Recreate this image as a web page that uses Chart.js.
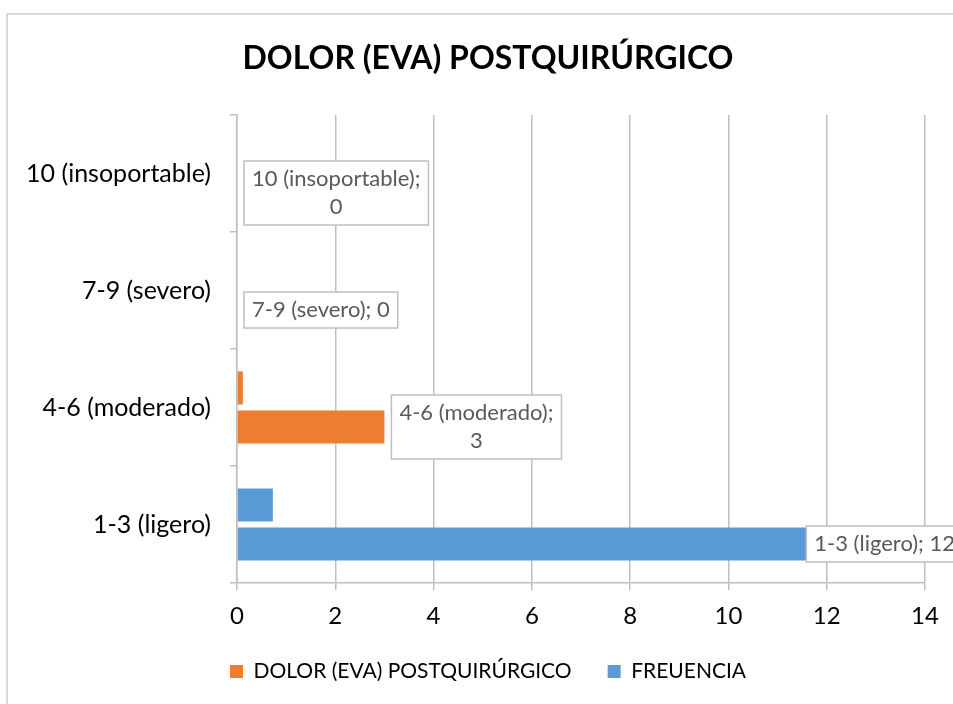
<!DOCTYPE html>
<html>
<head>
<meta charset="utf-8">
<script src="https://cdn.jsdelivr.net/npm/chart.js@4"></script>
<style>
  html, body { margin: 0; padding: 0; background: #fff; overflow: hidden; }
  .box { position: absolute; left: 6px; top: 13px; width: 960px; height: 720px; border: 2px solid #d9d9d9; }
  canvas { display: block; }
</style>
</head>
<body>
<div class="box"><canvas id="chartDolor" width="960" height="710"></canvas></div>
<script>
// datos del gráfico
const categorias = ['10 (insoportable)', '7-9 (severo)', '4-6 (moderado)', '1-3 (ligero)'];
const barraSuperior = [0, 0, 0.12, 0.73];
const frecuencia = [0, 0, 3, 12];
const coloresCategoria = ['#FFC000', '#A5A5A5', '#ED7D31', '#5B9BD5'];
const leyendaNombres = ['DOLOR (EVA) POSTQUIRÚRGICO', 'FREUENCIA'];
const leyendaColores = ['#ED7D31', '#5B9BD5'];
const ticksX = [0, 2, 4, 6, 8, 10, 12, 14];

const FUENTE = 'Lato, "Open Sans", sans-serif';

// etiquetas con recuadro al final de cada barra de frecuencia
const etiquetasPlugin = {
  id: 'etiquetas',
  afterDatasetsDraw(chart) {
    const c = chart.ctx;
    const meta = chart.getDatasetMeta(1);
    c.save();
    c.font = '22px ' + FUENTE;
    c.textAlign = 'center';
    c.textBaseline = 'middle';
    meta.data.forEach((bar, i) => {
      const txt = categorias[i] + '; ' + frecuencia[i];
      let lineas = [txt];
      if (c.measureText(txt).width > 165) lineas = [categorias[i] + ';', String(frecuencia[i])];
      const w = Math.max(...lineas.map(l => c.measureText(l).width)) + 16;
      const lh = 28;
      const h = lineas.length * lh + 8;
      let x = bar.x + 7;
      if (x + w > chart.width - 5) x = chart.width - 5 - w;
      const y = bar.y - h / 2;
      c.fillStyle = '#fff';
      c.fillRect(x, y, w, h);
      c.strokeStyle = '#bfbfbf';
      c.lineWidth = 1.5;
      c.strokeRect(x, y, w, h);
      c.fillStyle = '#595959';
      lineas.forEach((l, k) => c.fillText(l, x + w / 2, y + 4 + lh * k + lh / 2));
    });
    c.restore();
  }
};

new Chart(document.getElementById('chartDolor'), {
  type: 'bar',
  data: {
    labels: categorias,
    datasets: [{
      label: leyendaNombres[0],
      data: barraSuperior,
      backgroundColor: coloresCategoria,
      categoryPercentage: 0.668,
      barPercentage: 0.846
    }, {
      label: leyendaNombres[1],
      data: frecuencia,
      backgroundColor: coloresCategoria,
      categoryPercentage: 0.668,
      barPercentage: 0.846
    }]
  },
  options: {
    indexAxis: 'y',
    responsive: false,
    animation: false,
    layout: { padding: { left: 0, right: 0, top: 0, bottom: 33 } },
    plugins: {
      title: {
        display: true,
        text: 'DOLOR (EVA) POSTQUIRÚRGICO',
        color: '#000',
        font: { family: FUENTE, size: 32, weight: 'bold' },
        padding: { top: 24, bottom: 37.6 }
      },
      legend: {
        position: 'bottom',
        labels: {
          color: '#595959',
          font: { family: FUENTE, size: 21 },
          boxWidth: 13,
          boxHeight: 13,
          padding: 36,
          generateLabels: () => leyendaNombres.map((n, i) => ({
            text: n, fillStyle: leyendaColores[i], strokeStyle: leyendaColores[i], lineWidth: 0, datasetIndex: i
          }))
        }
      },
      tooltip: { enabled: false }
    },
    scales: {
      x: {
        min: 0,
        max: 14,
        afterBuildTicks: ax => { ax.ticks = ticksX.map(v => ({ value: v })); },
        afterFit: ax => { ax.height = 42; ax.paddingRight = 43; },
        grid: { color: '#bfbfbf', lineWidth: 1.5, tickLength: 7 },
        border: { display: true, color: '#bfbfbf', width: 1.5 },
        ticks: { color: '#000', font: { family: FUENTE, size: 24 }, padding: 12 }
      },
      y: {
        afterFit: ax => { ax.width = 229; },
        grid: { color: '#bfbfbf', lineWidth: 1.5, drawOnChartArea: false, tickLength: 7, offset: true },
        border: { display: true, color: '#bfbfbf', width: 1.5 },
        ticks: { color: '#000', font: { family: FUENTE, size: 25 }, padding: 19 }
      }
    }
  },
  plugins: [etiquetasPlugin]
});
</script>
</body>
</html>
